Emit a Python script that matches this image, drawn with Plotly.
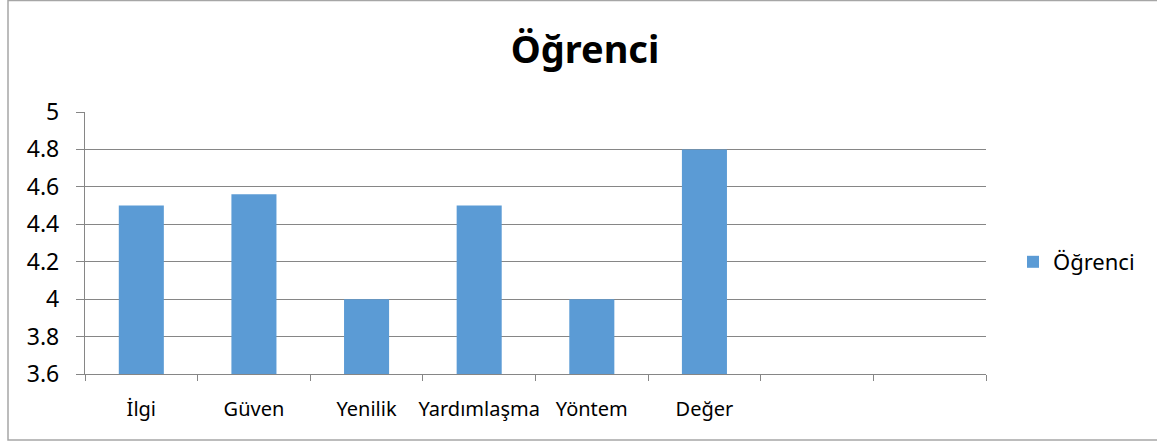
import plotly.graph_objects as go

# ── Data ────────────────────────────────────────────────────────────────────
categories = ['İlgi', 'Güven', 'Yenilik', 'Yardımlaşma', 'Yöntem', 'Değer']
empty_slots = [' ', '  ']          # two unlabelled categories at the right
values = [4.5, 4.56, 4.0, 4.5, 4.0, 4.8]
series_name = 'Öğrenci'

# ── Style ───────────────────────────────────────────────────────────────────
BAR = '#5B9BD5'
GRID = '#868686'
FRAME = '#A6A6A6'
FONT = 'Noto Sans, Open Sans, sans-serif'

W, H = 1157, 443
L, R, T, B = 85, 986, 112, 374

fig = go.Figure(go.Bar(
    x=categories, y=values, name=series_name,
    marker=dict(color=BAR, line=dict(width=0)),
    showlegend=True,
))

fig.update_layout(
    width=W, height=H,
    margin=dict(l=L, r=W - R, t=T, b=H - B, pad=0, autoexpand=False),
    paper_bgcolor='white', plot_bgcolor='white',
    font=dict(family=FONT, color='black', size=18),
    bargap=0.6,
    title=dict(text='<b>Öğrenci</b>', font=dict(size=38, family=FONT),
               x=585 / W, xref='container', xanchor='center',
               y=1 - 50 / H, yref='container', yanchor='middle'),
    legend=dict(x=1013 / W, xref='container', xanchor='left',
                y=1 - 262 / H, yref='container', yanchor='middle',
                font=dict(size=22), itemwidth=30, bgcolor='rgba(0,0,0,0)'),
    shapes=[dict(type='rect', xref='paper', yref='paper',
                 x0=(8 - L) / (R - L), x1=1.3,
                 y0=-(440 - B) / (B - T), y1=1 + (T - 0.5) / (B - T),
                 line=dict(color=FRAME, width=1.5), layer='below')],
)

fig.update_xaxes(
    type='category', categoryorder='array',
    categoryarray=categories + empty_slots,
    range=[-0.5, len(categories) + len(empty_slots) - 0.5],
    tickson='boundaries', ticks='outside', ticklen=6, tickcolor=GRID,
    showline=True, linecolor=GRID, linewidth=1.3,
    showgrid=False, ticklabelstandoff=17, tickangle=0, automargin=False,
    tickfont=dict(size=20),
)
fig.update_yaxes(
    range=[3.6, 5.0], dtick=0.2, tick0=3.6,
    showgrid=True, gridcolor=GRID, gridwidth=1.2,
    ticks='outside', ticklen=8, tickcolor=GRID,
    showline=True, linecolor=GRID, linewidth=1.3, automargin=False,
    zeroline=False, tickfont=dict(size=23), ticklabelstandoff=12,
)

# the page body has a default 8px margin; drop it so the chart sits at 0,0
fig.write_html('out.html', config={'displayModeBar': False},
               post_script="document.body.style.margin='0';")
